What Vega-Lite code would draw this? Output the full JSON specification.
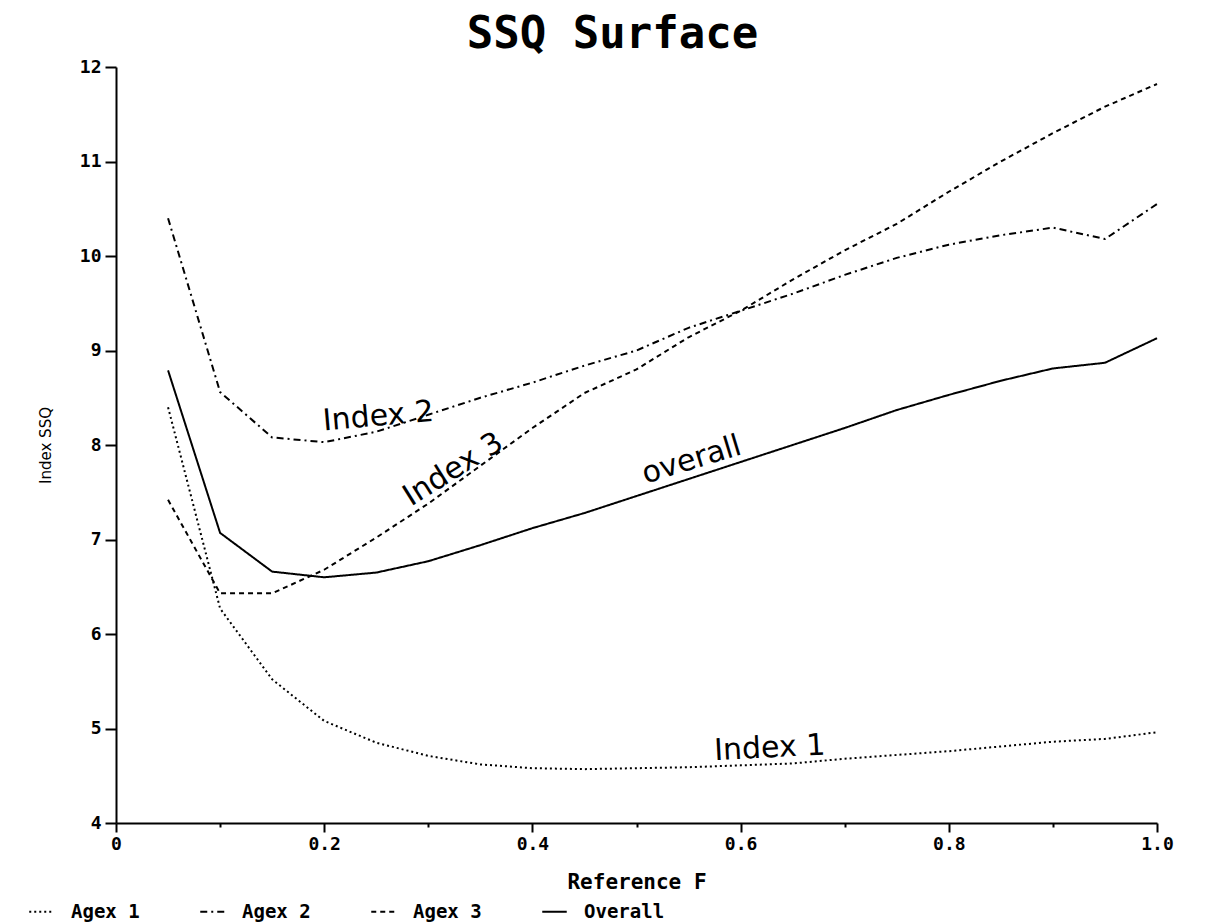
{
  "$schema": "https://vega.github.io/schema/vega-lite/v6.json",
  "width": 1041,
  "height": 756,
  "autosize": "none",
  "padding": {"left": 116, "top": 67, "right": 54, "bottom": 101},
  "background": "white",
  "title": {
    "text": "SSQ Surface",
    "font": "DejaVu Sans Mono",
    "fontSize": 44,
    "fontWeight": "bold",
    "color": "black",
    "anchor": "middle",
    "dx": -24,
    "offset": 1
  },
  "datasets": {
    "curves": [
      {"F": 0.05, "series": "Agex 1", "ssq": 8.40},
      {"F": 0.10, "series": "Agex 1", "ssq": 6.27},
      {"F": 0.15, "series": "Agex 1", "ssq": 5.52},
      {"F": 0.20, "series": "Agex 1", "ssq": 5.08},
      {"F": 0.25, "series": "Agex 1", "ssq": 4.85},
      {"F": 0.30, "series": "Agex 1", "ssq": 4.71},
      {"F": 0.35, "series": "Agex 1", "ssq": 4.62},
      {"F": 0.40, "series": "Agex 1", "ssq": 4.58},
      {"F": 0.45, "series": "Agex 1", "ssq": 4.57},
      {"F": 0.50, "series": "Agex 1", "ssq": 4.58},
      {"F": 0.55, "series": "Agex 1", "ssq": 4.59},
      {"F": 0.60, "series": "Agex 1", "ssq": 4.61},
      {"F": 0.65, "series": "Agex 1", "ssq": 4.63},
      {"F": 0.70, "series": "Agex 1", "ssq": 4.68},
      {"F": 0.75, "series": "Agex 1", "ssq": 4.72},
      {"F": 0.80, "series": "Agex 1", "ssq": 4.76},
      {"F": 0.85, "series": "Agex 1", "ssq": 4.81},
      {"F": 0.90, "series": "Agex 1", "ssq": 4.86},
      {"F": 0.95, "series": "Agex 1", "ssq": 4.89},
      {"F": 1.00, "series": "Agex 1", "ssq": 4.96},
      {"F": 0.05, "series": "Agex 2", "ssq": 10.40},
      {"F": 0.10, "series": "Agex 2", "ssq": 8.56},
      {"F": 0.15, "series": "Agex 2", "ssq": 8.08},
      {"F": 0.20, "series": "Agex 2", "ssq": 8.03},
      {"F": 0.25, "series": "Agex 2", "ssq": 8.14},
      {"F": 0.30, "series": "Agex 2", "ssq": 8.32},
      {"F": 0.35, "series": "Agex 2", "ssq": 8.50},
      {"F": 0.40, "series": "Agex 2", "ssq": 8.66},
      {"F": 0.45, "series": "Agex 2", "ssq": 8.84},
      {"F": 0.50, "series": "Agex 2", "ssq": 9.00},
      {"F": 0.55, "series": "Agex 2", "ssq": 9.24},
      {"F": 0.60, "series": "Agex 2", "ssq": 9.42},
      {"F": 0.65, "series": "Agex 2", "ssq": 9.60},
      {"F": 0.70, "series": "Agex 2", "ssq": 9.80},
      {"F": 0.75, "series": "Agex 2", "ssq": 9.98},
      {"F": 0.80, "series": "Agex 2", "ssq": 10.12},
      {"F": 0.85, "series": "Agex 2", "ssq": 10.22},
      {"F": 0.90, "series": "Agex 2", "ssq": 10.30},
      {"F": 0.95, "series": "Agex 2", "ssq": 10.18},
      {"F": 1.00, "series": "Agex 2", "ssq": 10.55},
      {"F": 0.05, "series": "Agex 3", "ssq": 7.42},
      {"F": 0.10, "series": "Agex 3", "ssq": 6.43},
      {"F": 0.15, "series": "Agex 3", "ssq": 6.43},
      {"F": 0.20, "series": "Agex 3", "ssq": 6.68},
      {"F": 0.25, "series": "Agex 3", "ssq": 7.02},
      {"F": 0.30, "series": "Agex 3", "ssq": 7.38},
      {"F": 0.35, "series": "Agex 3", "ssq": 7.78},
      {"F": 0.40, "series": "Agex 3", "ssq": 8.18},
      {"F": 0.45, "series": "Agex 3", "ssq": 8.55},
      {"F": 0.50, "series": "Agex 3", "ssq": 8.80},
      {"F": 0.55, "series": "Agex 3", "ssq": 9.14},
      {"F": 0.60, "series": "Agex 3", "ssq": 9.42},
      {"F": 0.65, "series": "Agex 3", "ssq": 9.75},
      {"F": 0.70, "series": "Agex 3", "ssq": 10.06},
      {"F": 0.75, "series": "Agex 3", "ssq": 10.34},
      {"F": 0.80, "series": "Agex 3", "ssq": 10.68},
      {"F": 0.85, "series": "Agex 3", "ssq": 11.00},
      {"F": 0.90, "series": "Agex 3", "ssq": 11.30},
      {"F": 0.95, "series": "Agex 3", "ssq": 11.58},
      {"F": 1.00, "series": "Agex 3", "ssq": 11.82},
      {"F": 0.05, "series": "Overall", "ssq": 8.79},
      {"F": 0.10, "series": "Overall", "ssq": 7.07},
      {"F": 0.15, "series": "Overall", "ssq": 6.66},
      {"F": 0.20, "series": "Overall", "ssq": 6.60},
      {"F": 0.25, "series": "Overall", "ssq": 6.65},
      {"F": 0.30, "series": "Overall", "ssq": 6.77},
      {"F": 0.35, "series": "Overall", "ssq": 6.94},
      {"F": 0.40, "series": "Overall", "ssq": 7.12},
      {"F": 0.45, "series": "Overall", "ssq": 7.28},
      {"F": 0.50, "series": "Overall", "ssq": 7.46},
      {"F": 0.55, "series": "Overall", "ssq": 7.64},
      {"F": 0.60, "series": "Overall", "ssq": 7.82},
      {"F": 0.65, "series": "Overall", "ssq": 8.00},
      {"F": 0.70, "series": "Overall", "ssq": 8.18},
      {"F": 0.75, "series": "Overall", "ssq": 8.37},
      {"F": 0.80, "series": "Overall", "ssq": 8.53},
      {"F": 0.85, "series": "Overall", "ssq": 8.68},
      {"F": 0.90, "series": "Overall", "ssq": 8.81},
      {"F": 0.95, "series": "Overall", "ssq": 8.87},
      {"F": 1.00, "series": "Overall", "ssq": 9.13}
    ],
    "notes": [
      {"F": 0.252, "ssq": 8.30, "label": "Index 2"},
      {"F": 0.324, "ssq": 7.74, "label": "Index 3"},
      {"F": 0.553, "ssq": 7.84, "label": "overall"},
      {"F": 0.628, "ssq": 4.79, "label": "Index 1"}
    ]
  },
  "config": {
    "view": {"stroke": null},
    "axis": {
      "domainColor": "black",
      "domainWidth": 2,
      "tickColor": "black",
      "tickWidth": 2,
      "grid": false,
      "labelFont": "DejaVu Sans Mono",
      "labelFontWeight": "bold",
      "labelFontSize": 18,
      "labelColor": "black",
      "titleColor": "black"
    }
  },
  "layer": [
    {
      "data": {"name": "curves"},
      "mark": {"type": "line", "color": "black", "strokeWidth": 2, "clip": false},
      "encoding": {
        "x": {
          "field": "F",
          "type": "quantitative",
          "scale": {"domain": [0, 1], "nice": false, "zero": true},
          "axis": {
            "values": [0, 0.1, 0.2, 0.3, 0.4, 0.5, 0.6, 0.7, 0.8, 0.9, 1.0],
            "labelExpr": "datum.value == 0 ? '0' : (round(datum.value*10) % 2 == 1 ? '' : format(datum.value, '.1f'))",
            "tickSize": {"condition": {"test": "round(datum.value*10) % 2 == 1", "value": 4}, "value": 9},
            "labelPadding": 3,
            "title": "Reference F",
            "titleFont": "DejaVu Sans Mono",
            "titleFontWeight": "bold",
            "titleFontSize": 21,
            "titlePadding": 18,
            "labelFlush": false
          }
        },
        "y": {
          "field": "ssq",
          "type": "quantitative",
          "scale": {"domain": [4, 12], "nice": false, "zero": false},
          "axis": {
            "values": [4, 5, 6, 7, 8, 9, 10, 11, 12],
            "format": "d",
            "tickSize": 11,
            "labelPadding": 4,
            "title": "Index SSQ",
            "titleFont": "DejaVu Sans",
            "titleFontWeight": "normal",
            "titleFontSize": 15,
            "titlePadding": 26
          }
        },
        "detail": {"field": "series"},
        "strokeDash": {
          "field": "series",
          "type": "nominal",
          "scale": {
            "domain": ["Agex 1", "Agex 2", "Agex 3", "Overall"],
            "range": [[2, 3], [7, 4, 2, 4], [5, 4], [1, 0]]
          },
          "legend": {
            "title": null,
            "orient": "none",
            "direction": "horizontal",
            "legendX": -88,
            "legendY": 831,
            "symbolType": "stroke",
            "symbolStrokeColor": "black",
            "symbolStrokeWidth": 2,
            "symbolSize": 600,
            "labelFont": "DejaVu Sans Mono",
            "labelFontWeight": "bold",
            "labelFontSize": 19,
            "labelColor": "black",
            "columnPadding": 56,
            "labelOffset": 16
          }
        }
      }
    },
    {
      "data": {"name": "notes"},
      "transform": [{"filter": "datum.label == 'Index 2'"}],
      "mark": {"type": "text", "font": "DejaVu Sans", "fontSize": 30, "angle": 355, "color": "black"},
      "encoding": {"x": {"field": "F", "type": "quantitative"}, "y": {"field": "ssq", "type": "quantitative"}, "text": {"field": "label"}}
    },
    {
      "data": {"name": "notes"},
      "transform": [{"filter": "datum.label == 'Index 3'"}],
      "mark": {"type": "text", "font": "DejaVu Sans", "fontSize": 30, "angle": 328, "color": "black"},
      "encoding": {"x": {"field": "F", "type": "quantitative"}, "y": {"field": "ssq", "type": "quantitative"}, "text": {"field": "label"}}
    },
    {
      "data": {"name": "notes"},
      "transform": [{"filter": "datum.label == 'overall'"}],
      "mark": {"type": "text", "font": "DejaVu Sans", "fontSize": 30, "angle": 343, "color": "black"},
      "encoding": {"x": {"field": "F", "type": "quantitative"}, "y": {"field": "ssq", "type": "quantitative"}, "text": {"field": "label"}}
    },
    {
      "data": {"name": "notes"},
      "transform": [{"filter": "datum.label == 'Index 1'"}],
      "mark": {"type": "text", "font": "DejaVu Sans", "fontSize": 30, "angle": 357, "color": "black"},
      "encoding": {"x": {"field": "F", "type": "quantitative"}, "y": {"field": "ssq", "type": "quantitative"}, "text": {"field": "label"}}
    }
  ]
}
